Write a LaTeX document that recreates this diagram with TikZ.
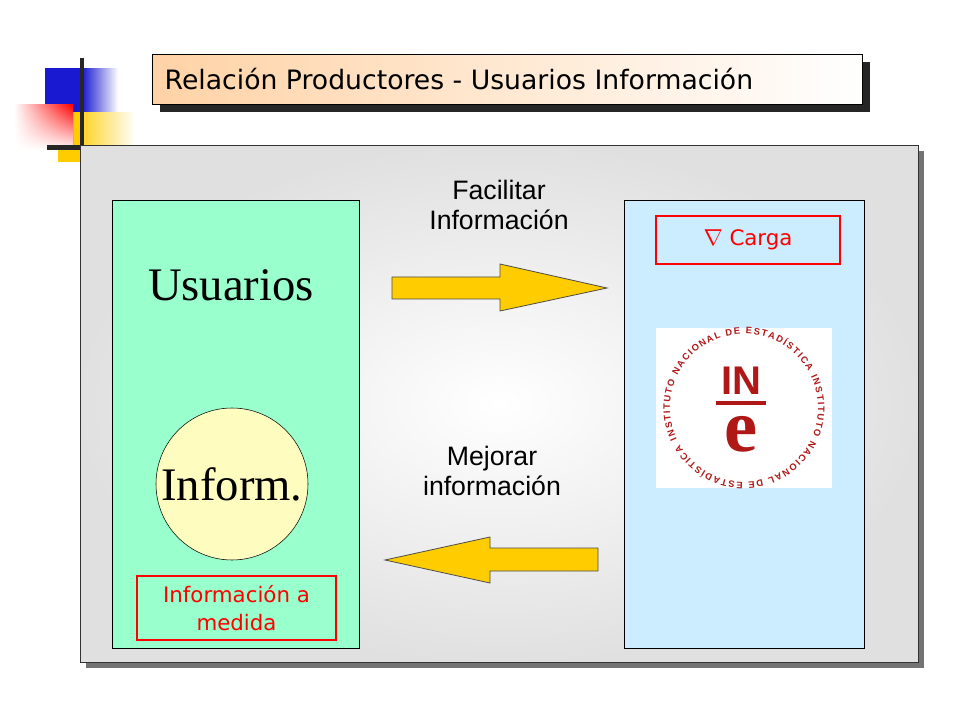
\documentclass[tikz,border=0pt]{standalone}
\usepackage{fontspec}
\setmainfont{Liberation Serif}
\setsansfont{Liberation Sans}
\newfontfamily\tah{DejaVu Sans}
\usetikzlibrary{decorations.text,fadings,shadings}
\definecolor{gr}{HTML}{99FFCC}
\definecolor{bl}{HTML}{CCECFF}
\definecolor{yl}{HTML}{FFCC00}
\definecolor{ine}{HTML}{B01818}
\tikzset{
 arr/.style={fill=yl,draw=black!70,line width=0.6pt},
 redbox/.style={draw=red,line width=1.2pt,fill=none},
 lab/.style={font=\sffamily\fontsize{20}{23}\selectfont,align=center},
}
\begin{document}
\begin{tikzpicture}[x=0.75pt,y=-0.75pt]
\useasboundingbox (0,0) rectangle (960,720);
\fill[white] (0,0) rectangle (960,720);
% decoration
\fill[blue!80!black!90,path fading=east] (82,68) rectangle (118,112);
\fill[blue!80!black!90] (45,68) rectangle (82,112);
\fill[yl,path fading=east] (73,112) rectangle (135,145);
\fill[yl] (73,112) rectangle (82,145);
\shade[left color=white,right color=red] (14,105) rectangle (73,150);
\fill[white,path fading=north] (14,105) rectangle (73,150);
\fill[yl] (58,148) rectangle (80,162);
\fill[black!85] (47,145) rectangle (82,150);
\fill[black!85] (80,58) rectangle (84,148);
% title
\fill[black!85] (160,62) rectangle (870,112);
\node[draw=black,line width=0.6pt,left color=orange!35,right color=white,minimum width=710*0.75pt,minimum height=50*0.75pt,anchor=north west,inner sep=0pt] (title) at (152,54) {};
\node[anchor=west,font=\tah\fontsize{20}{24}\selectfont] (tt) at (160,79) {Relación Productores - Usuarios Información};
% panel
\fill[black!55] (86,151) rectangle (924,668);
\node[draw=black!80,line width=0.6pt,inner color=white,outer color=black!12,minimum width=838*0.75pt,minimum height=517*0.75pt,anchor=north west,inner sep=0pt] (panel) at (80,145) {};
% boxes
\node[draw=black,fill=gr,minimum width=247*0.75pt,minimum height=448*0.75pt,anchor=north west,inner sep=0pt] (usr) at (112,200) {};
\node[draw=black,fill=bl,minimum width=240*0.75pt,minimum height=448*0.75pt,anchor=north west,inner sep=0pt] (prod) at (624,200) {};
\node[font=\fontsize{35}{38}\selectfont] (usuarios) at (231,285) {Usuarios};
\node[circle,draw=black,fill=yellow!25,minimum size=152*0.75pt,inner sep=0pt,font=\fontsize{35}{38}\selectfont] (inf) at (232,484) {Inform.};
\node[redbox,minimum width=199*0.75pt,minimum height=64*0.75pt,inner sep=0pt,align=center,text=red,font=\tah\fontsize{16}{21}\selectfont] (med) at (236.5,608) {Información a\\medida};
\node[redbox,minimum width=184*0.75pt,minimum height=48*0.75pt,inner sep=0pt,text=red,font=\tah\fontsize{16}{20}\selectfont] (carga) at (748,240) {$\nabla$ Carga};
% labels
\node[lab] (fac) at (499,205) {Facilitar\\Información};
\node[lab] (mej) at (492,471) {Mejorar\\información};
% arrows
\draw[arr] (392,277) -- (500,277) -- (500,264) -- (607,288) -- (500,311) -- (500,299) -- (392,299) -- cycle;
\draw[arr] (598,548) -- (490,548) -- (490,537) -- (385,560) -- (490,583) -- (490,571) -- (598,571) -- cycle;
% logo
\node[fill=white,minimum width=176*0.75pt,minimum height=160*0.75pt,inner sep=0pt] (logo) at (744,408) {};
\path[decorate,decoration={text along path,text align=fit to path,text={|\sffamily\bfseries\fontsize{7}{8}\selectfont\color{ine}|INSTITUTO NACIONAL DE ESTADÍSTICA  INSTITUTO NACIONAL DE ESTADÍSTICA}}] (744,408) ++(205:74*0.75pt) arc[start angle=205,end angle=-150,radius=74*0.75pt];
\node[text=ine,font=\sffamily\bfseries\fontsize{30}{30}\selectfont] (inl) at (741,381) {IN};
\fill[ine] (716,401) rectangle (766,405);
\node[text=ine,font=\bfseries\fontsize{56}{56}\selectfont] (e) at (741,434) {e};
\end{tikzpicture}
\end{document}
